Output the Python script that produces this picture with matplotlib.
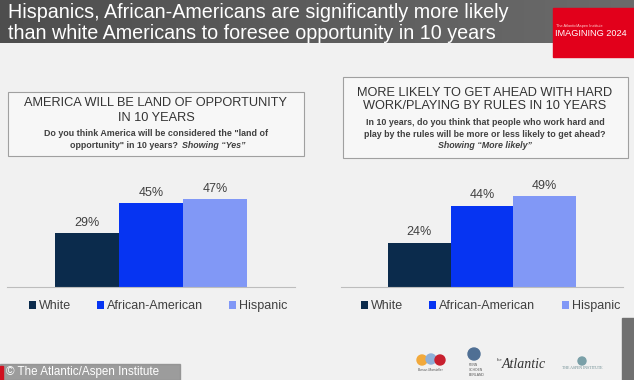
import numpy as np
import matplotlib
matplotlib.use('Agg')
import matplotlib.pyplot as plt
from matplotlib.patches import Rectangle, Circle

plt.rcParams['font.family'] = ['Liberation Sans', 'DejaVu Sans']

# data
categories = ['White', 'African-American', 'Hispanic']
land_of_opportunity = [29, 45, 47]
get_ahead = [24, 44, 49]
bar_colors = ['#0b2b4c', '#0634f2', '#8198f6']

title = ('Hispanics, African-Americans are significantly more likely\n'
         'than white Americans to foresee opportunity in 10 years')
left_head = 'AMERICA WILL BE LAND OF OPPORTUNITY\nIN 10 YEARS'
left_q1 = 'Do you think America will be considered the "land of'
left_q2 = 'opportunity" in 10 years?'
right_head = 'MORE LIKELY TO GET AHEAD WITH HARD\nWORK/PLAYING BY RULES IN 10 YEARS'
right_q = ('In 10 years, do you think that people who work hard and\n'
           'play by the rules will be more or less likely to get ahead?')

W, H = 634, 380
fig = plt.figure(figsize=(W / 100, H / 100), dpi=100)

# background layer in pixel coordinates
bg = fig.add_axes([0, 0, 1, 1])
bg.set_xlim(0, W)
bg.set_ylim(H, 0)
bg.axis('off')
bg.add_patch(Rectangle((0, 0), W, H, color='#f1f1f1', zorder=0))

# dark header band with a slight gradient
grad = np.linspace(0, 1, 256).reshape(1, -1)
bg.imshow(grad, extent=(0, W, 43, 0), cmap=matplotlib.colors.LinearSegmentedColormap.from_list(
    'hdr', ['#4e4e4e', '#6b6b6b']), aspect='auto', zorder=1)
bg.text(8, 23, title, color='white', fontsize=14.2, va='center', ha='left',
        linespacing=1.1, zorder=2)

# red badge
bg.add_patch(Rectangle((553, 8), 81, 49, color='#e2001b', zorder=3))
bg.text(556, 26, 'The Atlantic/Aspen Institute', color='#ffd0d0', fontsize=2.8,
        va='center', zorder=4)
bg.text(555, 34, 'IMAGINING 2024', color='white', fontsize=6.6, va='center', zorder=4)

# question boxes
bg.add_patch(Rectangle((8, 92), 296, 64, facecolor='#f7f7f7', edgecolor='#a0a0a0',
                       lw=0.8, zorder=2))
bg.text(156, 110.5, left_head, ha='center', va='center', fontsize=9.2, color='#333333',
        linespacing=1.25, zorder=3)
bg.text(156, 134, left_q1, ha='center', va='center', fontsize=6.4, color='#404040',
        fontweight='bold', zorder=3)
bg.text(178, 146, left_q2, ha='right', va='center', fontsize=6.4, color='#404040',
        fontweight='bold', zorder=3)
bg.text(182, 146, 'Showing \u201cYes\u201d', ha='left', va='center', fontsize=6.4,
        color='#404040', fontweight='bold', style='italic', zorder=3)

bg.add_patch(Rectangle((343, 77), 285, 81, facecolor='#f7f7f7', edgecolor='#a0a0a0',
                       lw=0.8, zorder=2))
bg.text(485, 99.5, right_head, ha='center', va='center', fontsize=9.2, color='#333333',
        linespacing=1.2, zorder=3)
bg.text(485, 128.5, right_q, ha='center', va='center', fontsize=6.4, color='#404040',
        fontweight='bold', linespacing=1.3, zorder=3)
bg.text(485, 146, 'Showing \u201cMore likely\u201d', ha='center', va='center', fontsize=6.4,
        color='#404040', fontweight='bold', style='italic', zorder=3)

# footer credit
bg.add_patch(Rectangle((0, 364), 180, 16, color='#8d8d8d', alpha=0.85, zorder=2))
bg.add_patch(Rectangle((0, 366), 3, 14, color='#d01020', zorder=3))
bg.text(6, 372, '\u00a9 The Atlantic/Aspen Institute', color='white', fontsize=8.4,
        va='center', zorder=3)

# sponsor logos (rough)
for cx, cy, r, c in [(422, 360, 5, '#f2a93b'), (431, 359, 5, '#8fb0d8'), (440, 360, 5, '#c8202f')]:
    bg.add_patch(Circle((cx, cy), r, color=c, zorder=3))
bg.text(431, 370, 'Burson-Marsteller', fontsize=2.3, ha='center', va='center',
        color='#555555', zorder=3)
bg.add_patch(Circle((474, 354), 6, color='#4f6f94', zorder=3))
bg.text(469, 370, 'PENN\nSCHOEN\nBERLAND', fontsize=2.4, color='#555555', va='center', zorder=3)
bg.text(497, 361, 'the', fontsize=3, color='#333333', style='italic', zorder=3)
bg.text(502, 364, 'Atlantic', fontsize=10, color='#333333', style='italic',
        family=['Liberation Serif', 'DejaVu Serif'], va='center', zorder=3)
bg.add_patch(Circle((582, 361), 4, color='#7aa0a8', zorder=3))
bg.text(582, 368, 'THE ASPEN INSTITUTE', fontsize=2.8, ha='center', va='center',
        color='#6a8a90', family=['Liberation Serif', 'DejaVu Serif'], zorder=3)
bg.add_patch(Rectangle((622, 318), 12, 62, color='#707070', zorder=2))


def bar_panel(rect, values, anchor_x):
    ax = fig.add_axes(rect)
    ax.patch.set_alpha(0)
    x = np.arange(len(categories))
    bars = ax.bar(x, values, width=1.0, color=bar_colors, label=categories)
    for b, v in zip(bars, values):
        ax.annotate(f'{v}%', (b.get_x() + b.get_width() / 2, v), xytext=(0, 3),
                    textcoords='offset points', ha='center', va='bottom',
                    fontsize=9, color='#404040')
    ax.set_xlim(-1.25, 3.25)
    ax.set_ylim(0, 60)
    for s in ['top', 'left', 'right']:
        ax.spines[s].set_visible(False)
    ax.spines['bottom'].set_color('#bdbdbd')
    ax.spines['bottom'].set_linewidth(0.8)
    ax.set_xticks([])
    ax.set_yticks([])
    ax.legend(bars, categories, loc='upper center', bbox_to_anchor=(anchor_x, -0.02),
              ncol=3, frameon=False, fontsize=9, handlelength=0.55, handleheight=0.55,
              handletextpad=0.25, columnspacing=2.1, labelcolor='#404040')
    return ax


def px_rect(x0, x1, y_base, height):
    return [x0 / W, (H - y_base) / H, (x1 - x0) / W, height / H]


bar_panel(px_rect(7, 295, 287, 112), land_of_opportunity, 0.525)
bar_panel(px_rect(341, 623, 287, 111), get_ahead, 0.53)

fig.savefig('out.png', dpi=100)
